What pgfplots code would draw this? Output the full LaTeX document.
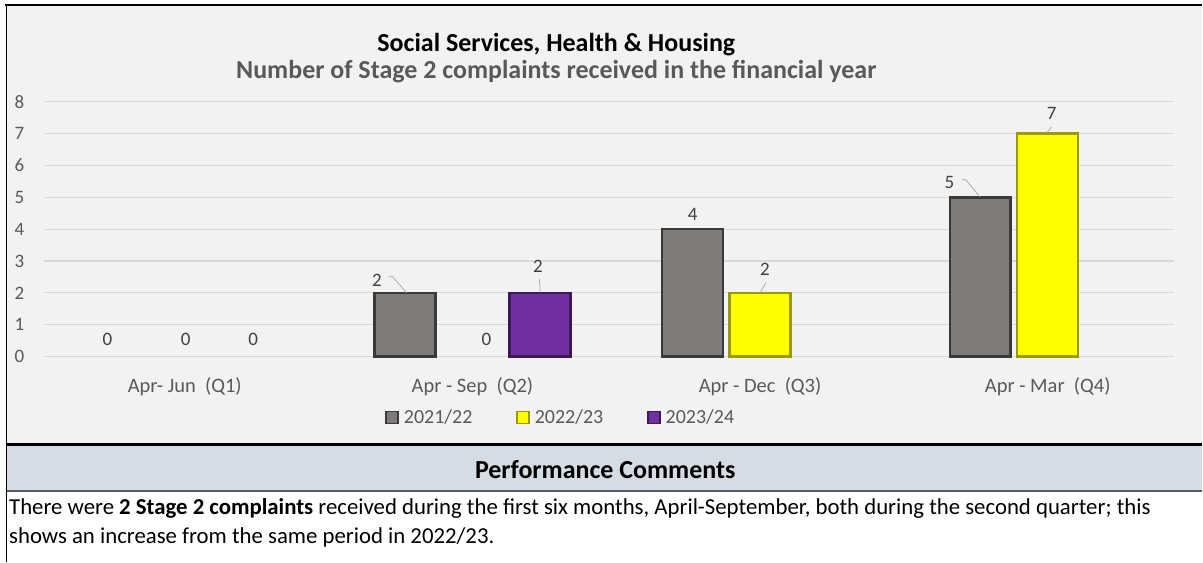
\documentclass[border=0pt]{standalone}
\usepackage{pgfplots}
\pgfplotsset{compat=1.18}
\usepackage{fontspec}
\setmainfont{Carlito}
\definecolor{bg}{HTML}{F2F2F2}
\definecolor{band}{HTML}{D6DCE4}
\definecolor{gridc}{HTML}{D9D9D9}
\definecolor{txt}{HTML}{595959}
\definecolor{lab}{HTML}{404040}
\definecolor{gfill}{HTML}{7F7B7A}
\definecolor{gdark}{HTML}{3A3A3A}
\definecolor{yfill}{HTML}{FFFF00}
\definecolor{ydark}{HTML}{9A9A00}
\definecolor{pfill}{HTML}{7030A0}
\definecolor{pdark}{HTML}{3B1858}
\begin{document}
\begin{tikzpicture}[x=1pt,y=1pt]
\fill[white] (0,0) rectangle (1203,-563);
\fill[bg] (6,-5) rectangle (1203,-444);
\fill[band] (6,-447) rectangle (1203,-491);
\draw[line width=2pt] (5,-5) -- (1203,-5);
\draw[line width=3pt] (6,-445.5) -- (1203,-445.5);
\draw[line width=1.5pt, color=black!65] (6,-491.5) -- (1203,-491.5);
\draw[line width=1pt] (6.5,-5) -- (6.5,-563);

\node[font=\fontsize{26}{30}\selectfont\bfseries] at (557,-45) {Social Services, Health \& Housing};
\node[font=\fontsize{26}{30}\selectfont\bfseries, text=txt] at (557,-72) {Number of Stage 2 complaints received in the financial year};

\begin{axis}[
  at={(44pt,-357pt)}, anchor=south west,
  scale only axis, width=1131pt, height=255pt,
  xmin=-0.4896, xmax=3.4375, ymin=0, ymax=8,
  ytick={0,1,2,3,4,5,6,7,8},
  xtick={0,1,2,3},
  xticklabels={Apr- Jun\ \ (Q1), Apr - Sep\ \ (Q2), Apr - Dec\ \ (Q3), Apr - Mar\ \ (Q4)},
  /pgf/number format/assume math mode=true,
  ymajorgrids, grid style={color=gridc, line width=1.2pt},
  axis line style={draw=none}, major tick style={draw=none},
  yticklabel style={anchor=center, xshift=-24.5pt, text=txt, font=\fontsize{19}{22}\selectfont},
  xticklabel style={anchor=center, yshift=-26pt, text=txt, font=\fontsize{20.5}{23}\selectfont},
  ybar, bar width=61pt,
  nodes near coords,
  every node near coord/.append style={anchor=center, text=lab, font=\fontsize{19}{22}\selectfont, xshift=\dx pt, yshift=\dy pt},
  visualization depends on={\thisrow{dx}\as\dx},
  visualization depends on={\thisrow{dy}\as\dy},
  legend style={at={(0.4576,-0.239)}, anchor=center, legend columns=3, draw=none, fill=none,
    font=\fontsize{20}{23}\selectfont, text=txt, inner sep=0pt,
    /tikz/every odd column/.append style={column sep=3pt},
    /tikz/every even column/.append style={column sep=42pt}},
  clip=false,
]
% 2021/22
\addplot[bar shift=-67.5pt, fill=gfill, draw=gdark, line width=2.5pt,
  legend image code/.code={\draw[fill=gfill, draw=gdark, line width=1.5pt] (0pt,-6pt) rectangle (12pt,6pt);}]
  table[row sep=\\] {x y dx dy\\ 1 2 -28 13\\ 2 4 0 15\\ 3 5 -31 15\\};
\addlegendentry{2021/22}
% 2022/23
\addplot[bar shift=0pt, fill=yfill, draw=ydark, line width=2.5pt,
  legend image code/.code={\draw[fill=yfill, draw=ydark, line width=1.5pt] (0pt,-6pt) rectangle (12pt,6pt);}]
  table[row sep=\\] {x y dx dy\\ 2 2 5 24\\ 3 7 4 20\\};
\addlegendentry{2022/23}
% 2023/24
\addplot[bar shift=67.5pt, fill=pfill, draw=pdark, line width=2.5pt,
  legend image code/.code={\draw[fill=pfill, draw=pdark, line width=1.5pt] (0pt,-6pt) rectangle (12pt,6pt);}]
  table[row sep=\\] {x y dx dy\\ 1 2 -2 27\\};
\addlegendentry{2023/24}
% zero-valued labels
\addplot[forget plot, bar shift=-67.5pt, draw=none, fill=none]
  table[row sep=\\] {x y dx dy\\ 0 0 -10 17\\};
\addplot[forget plot, bar shift=0pt, draw=none, fill=none]
  table[row sep=\\] {x y dx dy\\ 0 0 1 17\\ 1 0 14 17\\};
\addplot[forget plot, bar shift=67.5pt, draw=none, fill=none]
  table[row sep=\\] {x y dx dy\\ 0 0 1 17\\};
\end{axis}

% leader lines
\draw[gray!70, line width=0.7pt] (389,-277) -- (393,-277) -- (407,-293);
\draw[gray!70, line width=0.7pt] (540,-279) -- (541,-293);
\draw[gray!70, line width=0.7pt] (767,-283) -- (761,-293);
\draw[gray!70, line width=0.7pt] (963,-180) -- (967,-180) -- (981,-197);
\draw[gray!70, line width=0.7pt] (1053,-127) -- (1048,-133);

\node[font=\fontsize{26}{30}\selectfont\bfseries] at (606,-470) {Performance Comments};
\node[anchor=base west, font=\fontsize{22.8}{26}\selectfont, inner sep=0pt] at (9,-515) {There were \textbf{2 Stage 2 complaints} received during the first six months, April-September, both during the second quarter; this};
\node[anchor=base west, font=\fontsize{22.8}{26}\selectfont, inner sep=0pt] at (9,-544) {shows an increase from the same period in 2022/23.};
\end{tikzpicture}
\end{document}
